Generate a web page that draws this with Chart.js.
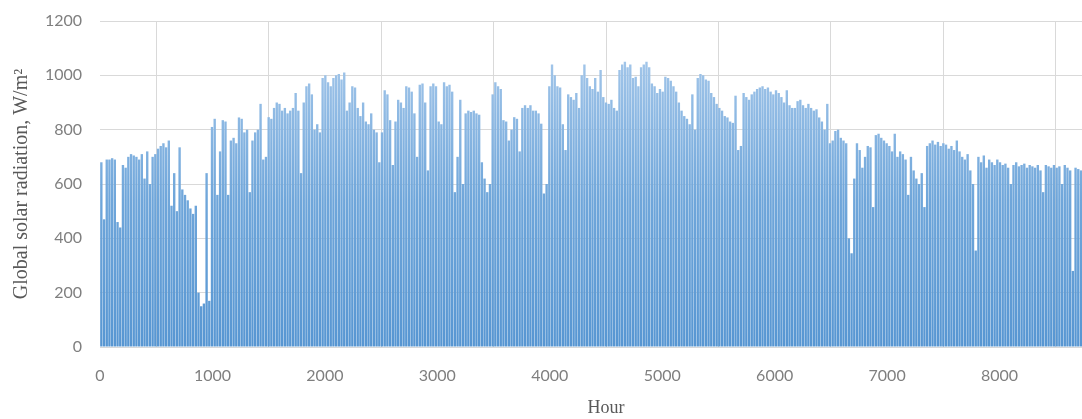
<!DOCTYPE html>
<html>
<head>
<meta charset="utf-8">
<script src="https://cdn.jsdelivr.net/npm/chart.js@4.4.1/dist/chart.umd.min.js"></script>
<style>
  html, body { margin: 0; padding: 0; background: #fff; overflow: hidden; }
  #wrap { position: relative; width: 1112px; height: 419px; }
</style>
</head>
<body>
<div id="wrap"><canvas id="mycanvas"></canvas></div>
<script>
// daily peak of global solar radiation (W/m2), one value per day
const janPeaks = [680,470,690,690,695,690,460,440,670,660,700,710,705,700,690,710,620,720,600,700,710,730,740,750,735,760,520,640,500,735,580];
const febPeaks = [560,540,510,490,520,200,150,160,640,170,810,840,560,720,835,830,560,760,770,750,845,840,790,800,570,760,790,800];
const marPeaks = [895,690,700,846,840,880,900,895,870,880,860,870,880,935,870,640,900,960,970,930,800,820,790,990,1000,975,960,990,1000,1005,985];
const aprPeaks = [1010,870,900,960,955,880,850,900,830,820,860,800,790,680,790,945,930,835,670,830,910,900,880,960,955,940,860,700,965,970];
const mayPeaks = [900,650,960,970,960,830,820,975,960,965,940,570,700,910,600,860,870,865,870,860,855,680,620,570,600,930,975,960,950,835,830];
const junPeaks = [760,800,846,840,720,880,890,880,890,870,870,860,822,565,600,960,1040,1000,960,955,820,725,930,920,910,935,880,1000,1040,990];
const julPeaks = [960,950,990,940,1020,920,900,895,910,880,870,1020,1040,1050,1030,1040,990,995,960,1030,1040,1050,1030,970,960,935,950,940,995,990,980];
const augPeaks = [960,940,900,870,850,840,820,930,800,990,1005,1000,985,980,935,920,895,880,870,850,845,830,825,925,725,740,935,920,910,930,940];
const sepPeaks = [950,955,960,950,955,940,930,945,935,920,900,945,890,880,880,905,910,890,880,895,880,870,875,845,830,800,895,750,760,795];
const octPeaks = [800,770,760,750,400,345,620,750,725,660,700,740,735,515,780,785,770,760,750,740,720,785,700,720,710,690,560,700,650,620,600];
const novPeaks = [640,515,740,750,760,745,755,740,750,745,730,740,725,760,720,700,690,710,650,600,355,700,680,705,660,690,680,670,690,680];
const decPeaks = [670,675,660,600,670,680,665,670,675,660,670,665,660,670,650,570,670,665,660,670,660,665,600,670,660,650,280,660,655,650,660];

const xTicks = [0,1000,2000,3000,4000,5000,6000,7000,8000,9000];
const yTicks = [0,200,400,600,800,1000,1200];

const allPeaks = janPeaks.concat(febPeaks, marPeaks, aprPeaks, mayPeaks, junPeaks,
  julPeaks, augPeaks, sepPeaks, octPeaks, novPeaks, decPeaks);

// one bar per day, placed at the middle hour of that day
const points = [];
for (let d = 0; d < allPeaks.length; d++) {
  points.push({ x: d * 24 + 12, y: allPeaks[d] });
}

let fillCache = null;
function barFill(context) {
  const chart = context.chart;
  const area = chart.chartArea;
  if (!area) return '#5b9bd5';
  if (fillCache && fillCache.key === area.bottom + '_' + area.top) return fillCache.g;
  const g = chart.ctx.createLinearGradient(0, area.bottom, 0, area.top);
  g.addColorStop(0, '#5796d2');
  g.addColorStop(0.45, '#6fa6da');
  g.addColorStop(0.85, '#9ec3e8');
  g.addColorStop(1, '#b3d0ee');
  fillCache = { key: area.bottom + '_' + area.top, g: g };
  return g;
}

const ctx = document.getElementById('mycanvas');

new Chart(ctx, {
  type: 'bar',
  data: {
    datasets: [{
      label: 'Global solar radiation',
      data: points,
      backgroundColor: barFill,
      borderWidth: 0,
      barPercentage: 0.88,
      categoryPercentage: 1
    }]
  },
  options: {
    responsive: true,
    maintainAspectRatio: false,
    animation: false,
    layout: { padding: { left: 4, top: 21, right: 0, bottom: 0 } },
    plugins: {
      legend: { display: false },
      tooltip: { enabled: false }
    },
    scales: {
      x: {
        type: 'linear',
        min: 0,
        max: 9000,
        offset: false,
        afterBuildTicks: function(scale) {
          scale.ticks = xTicks.map(v => ({ value: v }));
        },
        afterFit: function(scale) {
          scale.height = 72;
          scale.paddingLeft = 0;
          scale.paddingRight = 0;
        },
        grid: { color: '#d9d9d9', drawTicks: false },
        border: { display: false },
        ticks: {
          color: '#7f7f7f',
          font: { family: 'Lato', size: 16 },
          padding: 19,
          maxRotation: 0,
          callback: v => String(v)
        },
        title: {
          display: true,
          text: 'Hour',
          color: '#595959',
          font: { family: 'Liberation Serif', size: 18 },
          padding: { top: 0, bottom: 0 }
        }
      },
      y: {
        min: 0,
        max: 1200,
        afterBuildTicks: function(scale) {
          scale.ticks = yTicks.map(v => ({ value: v }));
        },
        afterFit: function(scale) {
          scale.width = 96;
          scale.paddingTop = 0;
          scale.paddingBottom = 0;
        },
        grid: { color: '#d9d9d9', drawTicks: false },
        border: { display: false },
        ticks: {
          color: '#7f7f7f',
          font: { family: 'Lato', size: 16 },
          padding: 18,
          callback: v => String(v)
        },
        title: {
          display: true,
          text: 'Global solar radiation, W/m²',
          color: '#595959',
          font: { family: 'Liberation Serif', size: 20 },
          padding: { top: 6, bottom: 8 }
        }
      }
    }
  }
});
</script>
</body>
</html>
